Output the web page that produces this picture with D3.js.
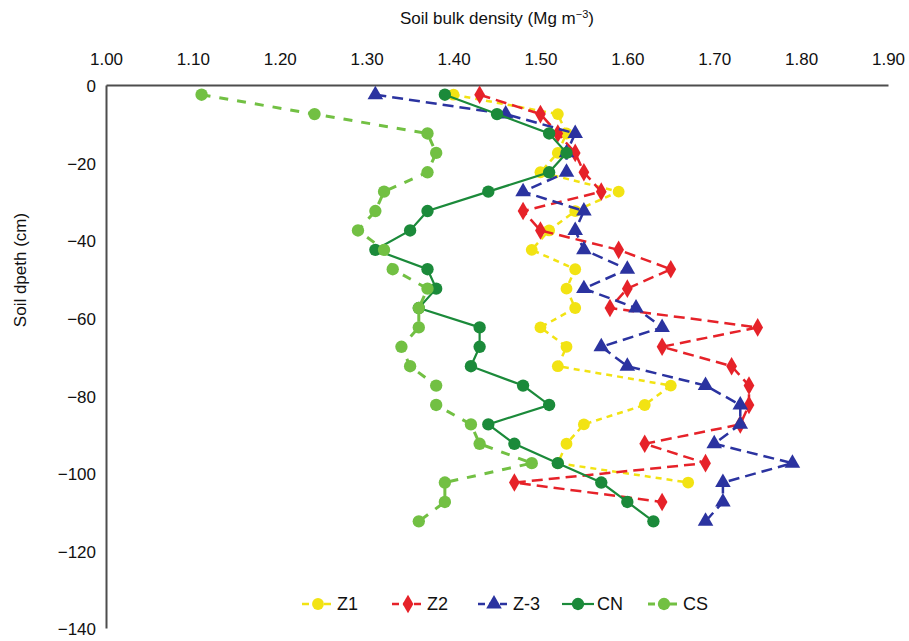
<!DOCTYPE html>
<html>
<head>
<meta charset="utf-8">
<script src="https://cdn.jsdelivr.net/npm/d3@7"></script>
<style>
  body { margin: 0; background: #fff; }
  text { font-family: 'Liberation Sans', Arial, sans-serif; fill: #111; }
</style>
</head>
<body>
<div id="chart"></div>
<script>
// Sampling depths (cm), shared by all series
const depths = [-2.5, -7.5, -12.5, -17.5, -22.5, -27.5, -32.5, -37.5, -42.5, -47.5, -52.5, -57.5,
  -62.5, -67.5, -72.5, -77.5, -82.5, -87.5, -92.5, -97.5, -102.5, -107.5, -112.5];

// Bulk density values (Mg m-3), top to bottom
const z1 = [1.40, 1.52, 1.53, 1.52, 1.50, 1.59, 1.54, 1.51, 1.49, 1.54, 1.53, 1.54,
  1.50, 1.53, 1.52, 1.65, 1.62, 1.55, 1.53, 1.52, 1.67];
const z2 = [1.43, 1.50, 1.52, 1.54, 1.55, 1.57, 1.48, 1.50, 1.59, 1.65, 1.60, 1.58,
  1.75, 1.64, 1.72, 1.74, 1.74, 1.73, 1.62, 1.69, 1.47, 1.64];
const z3 = [1.31, 1.46, 1.54, 1.53, 1.53, 1.48, 1.55, 1.54, 1.55, 1.60, 1.55, 1.61,
  1.64, 1.57, 1.60, 1.69, 1.73, 1.73, 1.70, 1.79, 1.71, 1.71, 1.69];
const cn = [1.39, 1.45, 1.51, 1.53, 1.51, 1.44, 1.37, 1.35, 1.31, 1.37, 1.38, 1.36,
  1.43, 1.43, 1.42, 1.48, 1.51, 1.44, 1.47, 1.52, 1.57, 1.60, 1.63];
const cs = [1.11, 1.24, 1.37, 1.38, 1.37, 1.32, 1.31, 1.29, 1.32, 1.33, 1.37, 1.36,
  1.36, 1.34, 1.35, 1.38, 1.38, 1.42, 1.43, 1.49, 1.39, 1.39, 1.36];

const seriesNames = ['Z1', 'Z2', 'Z-3', 'CN', 'CS'];
const seriesValues = [z1, z2, z3, cn, cs];

const xTicks = [1.0, 1.1, 1.2, 1.3, 1.4, 1.5, 1.6, 1.7, 1.8, 1.9];
const yTicks = [0, -20, -40, -60, -80, -100, -120, -140];

// Look of each series
const styleOf = {
  'Z1':  { color: '#f2e313', dash: '6,5',  width: 2.5, symbol: d3.symbolCircle,   size: 110 },
  'Z2':  { color: '#e62229', dash: '11,6', width: 2.5, symbol: d3.symbolDiamond,  size: 100 },
  'Z-3': { color: '#2b33a0', dash: '11,6', width: 2.5, symbol: d3.symbolTriangle, size: 105 },
  'CN':  { color: '#1b8a3a', dash: null,   width: 2.2, symbol: d3.symbolCircle,   size: 120 },
  'CS':  { color: '#72c043', dash: '9,9',  width: 3,   symbol: d3.symbolCircle,   size: 120 }
};

const width = 909, height = 641;
const svg = d3.select('#chart').append('svg')
  .attr('width', width)
  .attr('height', height);

const x = d3.scaleLinear().domain([1.0, 1.9]).range([106, 888]);
const y = d3.scaleLinear().domain([-140, 0]).range([628, 85]);

//Top x axis
const xAxis = svg.append('g')
  .attr('transform', 'translate(0,' + y(0) + ')')
  .call(d3.axisTop(x).tickValues(xTicks).tickSize(0).tickPadding(20).tickFormat(d3.format('.2f')));

//Left y axis
const yAxis = svg.append('g')
  .attr('transform', 'translate(' + x(1.0) + ',0)')
  .call(d3.axisLeft(y).tickValues(yTicks).tickSize(0).tickPadding(10));

[xAxis, yAxis].forEach((a) => {
  a.select('.domain').attr('stroke', '#4d4d4d').attr('stroke-width', 2);
  a.selectAll('text')
    .style('font-family', "'Liberation Sans', Arial, sans-serif")
    .style('font-size', '17px')
    .attr('fill', '#111');
});
yAxis.selectAll('text').attr('dy', '0.4em');

// Axis titles
const xTitle = svg.append('text')
  .attr('x', 497)
  .attr('y', 24)
  .attr('text-anchor', 'middle')
  .style('font-size', '17px');
xTitle.append('tspan').text('Soil bulk density (Mg m');
xTitle.append('tspan').attr('dy', -6).style('font-size', '11px').text('\u22123');
xTitle.append('tspan').attr('dy', 6).text(')');

svg.append('text')
  .attr('transform', 'translate(26,270) rotate(-90)')
  .attr('text-anchor', 'middle')
  .style('font-size', '17px')
  .text('Soil dpeth (cm)');

// Lines and markers
const line = d3.line()
  .x((d) => x(d[0]))
  .y((d) => y(d[1]));

seriesNames.forEach((name, i) => {
  const st = styleOf[name];
  const pts = seriesValues[i].map((v, j) => [v, depths[j]]);
  const g = svg.append('g').attr('class', 'series');

  g.append('path')
    .datum(pts)
    .attr('fill', 'none')
    .attr('stroke', st.color)
    .attr('stroke-width', st.width)
    .attr('stroke-dasharray', st.dash)
    .attr('d', line);

  g.selectAll('.pt')
    .data(pts)
    .enter()
    .append('path')
    .attr('class', 'pt')
    .attr('transform', (d) => 'translate(' + x(d[0]) + ',' + y(d[1]) + ')')
    .attr('d', d3.symbol().type(st.symbol).size(st.size))
    .attr('fill', st.color);
});

// Legend
const legendX = [302, 392, 478, 562, 648];
const legend = svg.append('g').attr('transform', 'translate(0,604)');
seriesNames.forEach((name, i) => {
  const st = styleOf[name];
  const item = legend.append('g').attr('transform', 'translate(' + legendX[i] + ',0)');
  item.append('line')
    .attr('x1', 0).attr('x2', 32)
    .attr('stroke', st.color)
    .attr('stroke-width', st.width)
    .attr('stroke-dasharray', st.dash ? '7,4' : null);
  item.append('path')
    .attr('transform', 'translate(16,0)')
    .attr('d', d3.symbol().type(st.symbol).size(st.size))
    .attr('fill', st.color);
  item.append('text')
    .attr('x', 35)
    .attr('dy', '0.35em')
    .style('font-size', '18px')
    .text(name);
});
</script>
</body>
</html>
